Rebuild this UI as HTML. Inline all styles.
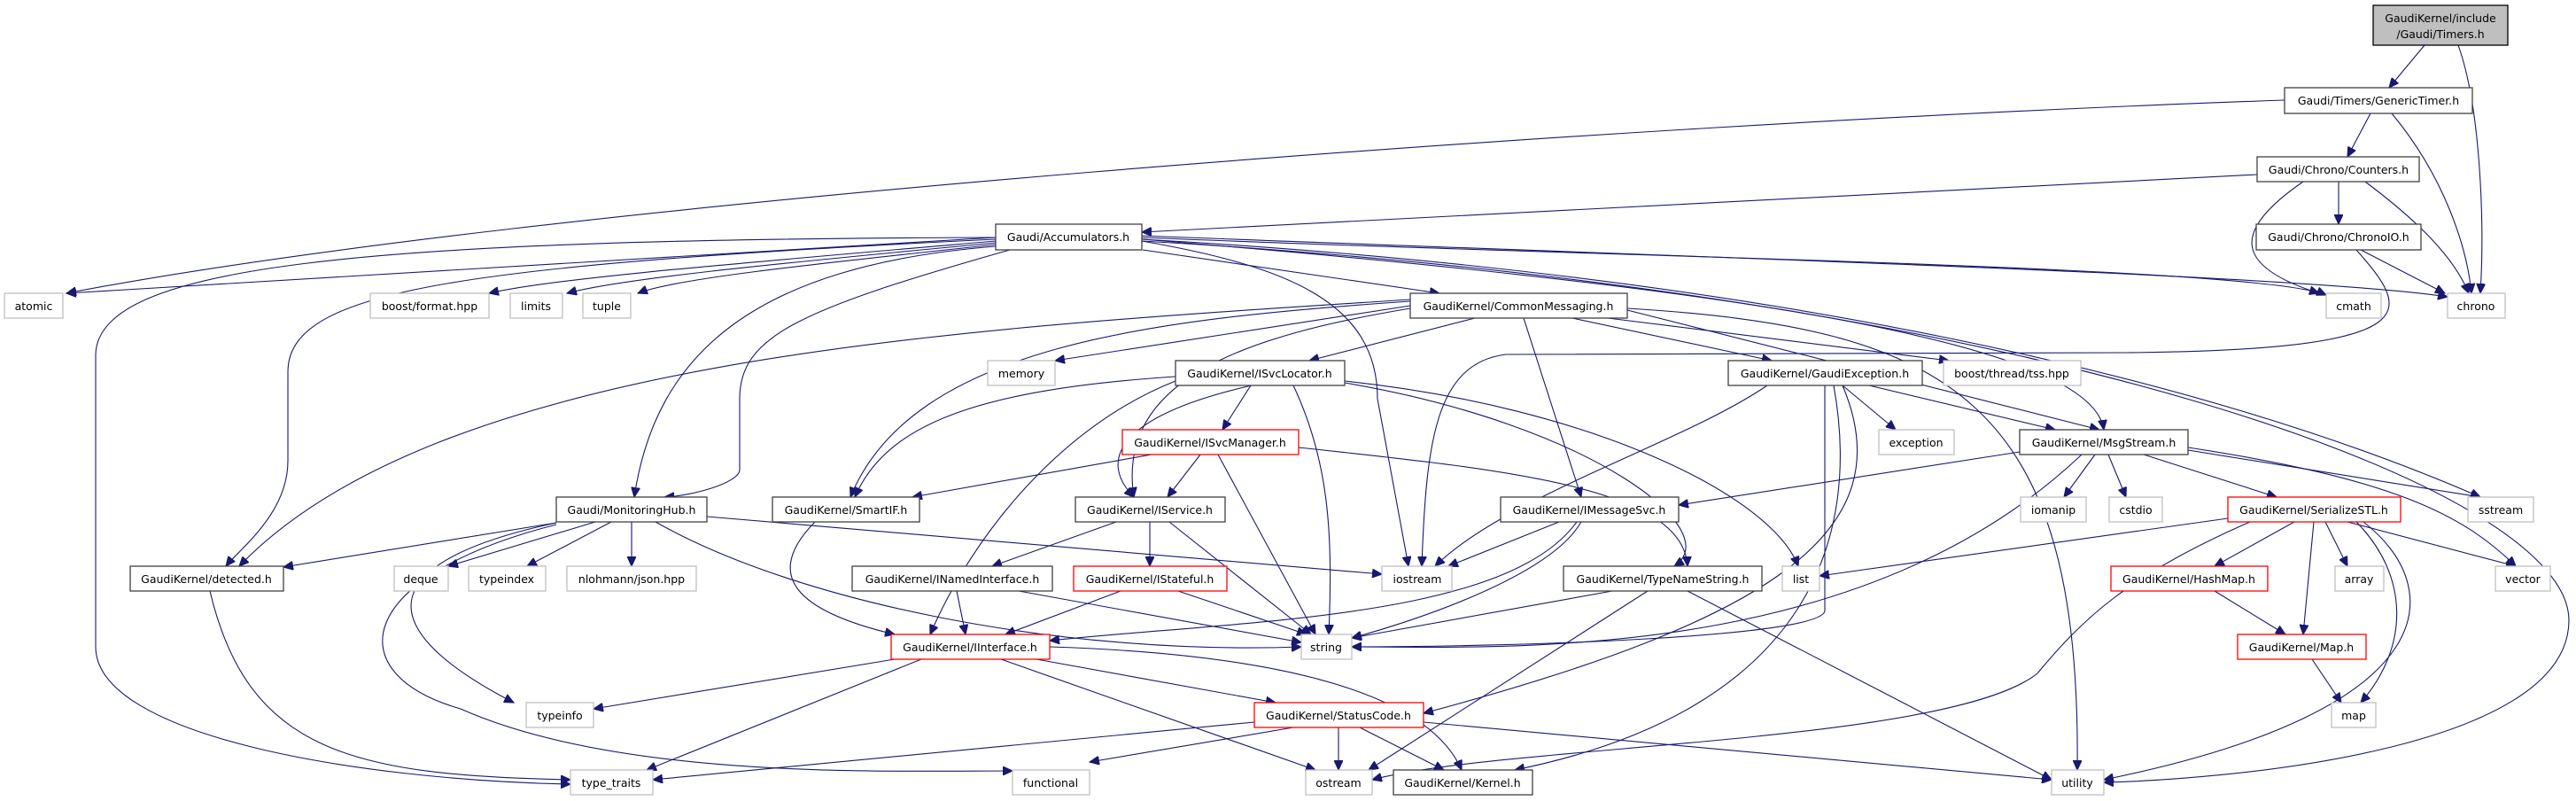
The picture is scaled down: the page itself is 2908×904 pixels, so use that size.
<!DOCTYPE html>
<html><head><meta charset="utf-8"><style>
html,body{margin:0;padding:0;background:#fff;}
svg{display:block;}
text{font-family:"DejaVu Sans","Liberation Sans",sans-serif;font-size:12.5px;fill:#000;text-anchor:middle;}
.n{fill:#fff;stroke:#404040;stroke-width:1.3;}
.g{fill:#fff;stroke:#bfbfbf;stroke-width:1.3;}
.r{fill:#fff;stroke:#ff0000;stroke-width:1.3;}
path{fill:none;stroke:#191970;stroke-width:1.1;marker-end:url(#a);}
</style></head><body>
<svg width="2908" height="904" viewBox="0 0 2908 904" xmlns="http://www.w3.org/2000/svg">
<defs><marker id="a" markerUnits="userSpaceOnUse" markerWidth="12" markerHeight="10" refX="11" refY="5" orient="auto"><path d="M0,0 L11,5 L0,10 z" style="fill:#191970;stroke:#191970;marker-end:none"/></marker></defs>
<g>
<path d="M2737,51 L2697,99"/>
<path d="M2775,51 C2800,120 2805,250 2800,331"/>
<path d="M2579,113 C1800,140 600,230 75,331"/>
<path d="M2676,128 L2650,177"/>
<path d="M2700,128 C2760,200 2785,280 2790,331"/>
<path d="M2548,197 L1289,262"/>
<path d="M2640,205 L2640,253"/>
<path d="M2600,205 C2520,260 2520,300 2618,331"/>
<path d="M2670,205 C2730,250 2770,290 2787,331"/>
<path d="M2665,282 L2760,331"/>
<path d="M2660,282 C2720,350 2750,395 2400,398 L1700,400 C1620,410 1610,500 1605,639"/>
<path d="M1124,268 L75,331"/>
<path d="M1124,268 C400,270 110,300 108,400 L108,730 C108,830 400,880 644,885"/>
<path d="M1124,270 C500,300 325,330 325,420 L325,520 C325,580 270,620 255,639"/>
<path d="M1124,272 C800,300 620,315 552,331"/>
<path d="M1124,274 C850,300 700,315 640,331"/>
<path d="M1124,276 C900,300 760,315 720,331"/>
<path d="M1124,278 C850,300 740,400 716,561"/>
<path d="M1140,282 C900,350 835,380 835,450 L835,530 C835,545 780,560 750,561"/>
<path d="M1290,282 L1625,331"/>
<path d="M1289,272 C1450,300 1555,340 1555,450 L1590,639"/>
<path d="M1289,268 C1800,290 2550,300 2626,333"/>
<path d="M1289,266 C1900,290 2600,310 2763,335"/>
<path d="M1289,270 C2000,310 2500,430 2800,561"/>
<path d="M1289,270 C1900,320 2360,380 2375,485"/>
<path d="M1289,272 C2300,330 2900,550 2900,700 C2900,850 2500,880 2375,883"/>
<path d="M1592,345 L1191,407"/>
<path d="M1665,359 L1478,407"/>
<path d="M1592,340 C1300,360 1030,390 960,561"/>
<path d="M1592,338 C1100,370 500,400 270,639"/>
<path d="M1592,348 C1400,380 1260,430 1280,561"/>
<path d="M1720,359 L1785,561"/>
<path d="M1775,359 L2000,407"/>
<path d="M1815,359 L2200,407"/>
<path d="M1837,350 L2370,485"/>
<path d="M1837,348 C2200,370 2350,450 2345,869"/>
<path d="M1412,435 L1380,485"/>
<path d="M1327,425 C1100,440 1000,480 965,561"/>
<path d="M1413,435 C1260,470 1240,520 1280,561"/>
<path d="M1327,430 C1200,480 1100,600 1050,716"/>
<path d="M1460,435 C1500,520 1505,600 1500,716"/>
<path d="M1518,430 C1800,460 2000,560 2030,639"/>
<path d="M1518,432 C1800,480 1950,600 1890,639"/>
<path d="M1300,513 L1030,561"/>
<path d="M1355,513 L1318,561"/>
<path d="M1375,513 L1485,716"/>
<path d="M1466,505 C1700,530 1900,550 1905,639"/>
<path d="M1995,435 C1900,500 1700,560 1620,639"/>
<path d="M2080,435 L2140,485"/>
<path d="M2110,435 L2320,485"/>
<path d="M2060,435 L2060,690 C2050,720 1700,730 1526,730"/>
<path d="M2070,435 C2100,600 2050,800 1710,869"/>
<path d="M2080,435 C2150,600 2000,700 1607,805"/>
<path d="M2280,510 L1895,570"/>
<path d="M2365,513 L2330,561"/>
<path d="M2380,513 L2400,561"/>
<path d="M2420,513 L2570,561"/>
<path d="M2470,508 L2800,561"/>
<path d="M2470,505 C2700,540 2780,580 2840,639"/>
<path d="M2350,513 C2100,750 1700,730 1526,730"/>
<path d="M2515,585 L2054,650"/>
<path d="M2590,589 L2500,639"/>
<path d="M2612,589 L2600,716"/>
<path d="M2625,589 L2650,639"/>
<path d="M2650,589 L2840,639"/>
<path d="M2660,589 C2720,650 2720,730 2665,793"/>
<path d="M2668,589 C2760,660 2770,800 2375,880"/>
<path d="M2540,589 C2400,650 2350,700 2300,760 C2200,840 1700,840 1549,880"/>
<path d="M2500,667 L2580,716"/>
<path d="M2610,744 L2643,793"/>
<path d="M628,590 L320,640"/>
<path d="M672,589 L506,639"/>
<path d="M690,589 L595,639"/>
<path d="M713,589 L713,639"/>
<path d="M628,590 C440,630 400,700 580,793"/>
<path d="M628,592 C400,650 380,760 520,800 C700,880 1000,870 1143,870"/>
<path d="M740,589 C900,680 1200,740 1469,730"/>
<path d="M798,583 L1560,648"/>
<path d="M920,589 C860,650 900,690 1010,716"/>
<path d="M237,667 C280,850 400,875 644,880"/>
<path d="M1260,589 L1120,639"/>
<path d="M1298,589 L1298,639"/>
<path d="M1320,589 L1480,716"/>
<path d="M1265,667 L1135,716"/>
<path d="M1330,667 L1475,716"/>
<path d="M1080,667 L1090,716"/>
<path d="M1150,667 L1469,725"/>
<path d="M1760,589 L1635,639"/>
<path d="M1780,589 C1700,700 1400,700 1185,723"/>
<path d="M1785,589 C1750,650 1600,700 1526,720"/>
<path d="M1820,667 L1526,720"/>
<path d="M1860,667 L1545,869"/>
<path d="M1905,667 L2316,880"/>
<path d="M1010,744 L670,800"/>
<path d="M1040,744 L730,869"/>
<path d="M1130,744 L1485,869"/>
<path d="M1170,744 L1440,793"/>
<path d="M1185,730 C1500,740 1620,800 1650,869"/>
<path d="M1416,815 L737,880"/>
<path d="M1460,821 L1230,860"/>
<path d="M1511,821 L1511,869"/>
<path d="M1535,821 L1630,869"/>
<path d="M1607,815 L2316,880"/>
</g>
<g>
<rect x="2679" y="6" width="152" height="45" style="fill:#bfbfbf;stroke:#000;stroke-width:1.3"/>
<text x="2755" y="25">GaudiKernel/include</text><text x="2755" y="43">/Gaudi/Timers.h</text>
<rect class="n" x="2579" y="99" width="212" height="29"/><text x="2685" y="118">Gaudi/Timers/GenericTimer.h</text>
<rect class="n" x="2548" y="177" width="183" height="28"/><text x="2640" y="196">Gaudi/Chrono/Counters.h</text>
<rect class="n" x="2547" y="253" width="186" height="29"/><text x="2640" y="272">Gaudi/Chrono/ChronoIO.h</text>
<rect class="n" x="1124" y="253" width="165" height="29"/><text x="1206" y="272">Gaudi/Accumulators.h</text>
<rect class="g" x="5" y="331" width="66" height="28"/><text x="38" y="350">atomic</text>
<rect class="g" x="418" y="331" width="134" height="28"/><text x="485" y="350">boost/format.hpp</text>
<rect class="g" x="576" y="331" width="59" height="28"/><text x="605" y="350">limits</text>
<rect class="g" x="658" y="331" width="54" height="28"/><text x="685" y="350">tuple</text>
<rect class="n" x="1592" y="331" width="245" height="28"/><text x="1714" y="350">GaudiKernel/CommonMessaging.h</text>
<rect class="g" x="2626" y="331" width="62" height="28"/><text x="2657" y="350">cmath</text>
<rect class="g" x="2763" y="331" width="65" height="28"/><text x="2795" y="350">chrono</text>
<rect class="g" x="1115" y="407" width="76" height="28"/><text x="1153" y="426">memory</text>
<rect class="n" x="1327" y="407" width="191" height="28"/><text x="1422" y="426">GaudiKernel/ISvcLocator.h</text>
<rect class="n" x="1951" y="407" width="219" height="28"/><text x="2060" y="426">GaudiKernel/GaudiException.h</text>
<rect class="g" x="2194" y="407" width="155" height="28"/><text x="2271" y="426">boost/thread/tss.hpp</text>
<rect class="r" x="1267" y="485" width="199" height="28"/><text x="1366" y="504">GaudiKernel/ISvcManager.h</text>
<rect class="g" x="2121" y="485" width="85" height="28"/><text x="2163" y="504">exception</text>
<rect class="n" x="2280" y="485" width="190" height="28"/><text x="2375" y="504">GaudiKernel/MsgStream.h</text>
<rect class="n" x="628" y="561" width="170" height="28"/><text x="713" y="580">Gaudi/MonitoringHub.h</text>
<rect class="n" x="872" y="561" width="166" height="28"/><text x="955" y="580">GaudiKernel/SmartIF.h</text>
<rect class="n" x="1214" y="561" width="169" height="28"/><text x="1298" y="580">GaudiKernel/IService.h</text>
<rect class="n" x="1694" y="561" width="201" height="28"/><text x="1794" y="580">GaudiKernel/IMessageSvc.h</text>
<rect class="g" x="2281" y="561" width="74" height="28"/><text x="2318" y="580">iomanip</text>
<rect class="g" x="2381" y="561" width="60" height="28"/><text x="2411" y="580">cstdio</text>
<rect class="r" x="2515" y="561" width="195" height="28"/><text x="2612" y="580">GaudiKernel/SerializeSTL.h</text>
<rect class="g" x="2786" y="561" width="74" height="28"/><text x="2823" y="580">sstream</text>
<rect class="n" x="147" y="639" width="173" height="28"/><text x="233" y="658">GaudiKernel/detected.h</text>
<rect class="g" x="445" y="639" width="61" height="28"/><text x="475" y="658">deque</text>
<rect class="g" x="529" y="639" width="87" height="28"/><text x="572" y="658">typeindex</text>
<rect class="g" x="640" y="639" width="146" height="28"/><text x="713" y="658">nlohmann/json.hpp</text>
<rect class="n" x="962" y="639" width="226" height="28"/><text x="1075" y="658">GaudiKernel/INamedInterface.h</text>
<rect class="r" x="1212" y="639" width="173" height="28"/><text x="1298" y="658">GaudiKernel/IStateful.h</text>
<rect class="g" x="1560" y="639" width="79" height="28"/><text x="1600" y="658">iostream</text>
<rect class="n" x="1765" y="639" width="224" height="28"/><text x="1877" y="658">GaudiKernel/TypeNameString.h</text>
<rect class="g" x="2012" y="639" width="42" height="28"/><text x="2033" y="658">list</text>
<rect class="r" x="2383" y="639" width="177" height="28"/><text x="2471" y="658">GaudiKernel/HashMap.h</text>
<rect class="g" x="2636" y="639" width="55" height="28"/><text x="2663" y="658">array</text>
<rect class="g" x="2817" y="639" width="62" height="28"/><text x="2848" y="658">vector</text>
<rect class="r" x="1006" y="716" width="179" height="28"/><text x="1095" y="735">GaudiKernel/IInterface.h</text>
<rect class="g" x="1469" y="716" width="57" height="28"/><text x="1497" y="735">string</text>
<rect class="r" x="2526" y="716" width="145" height="28"/><text x="2598" y="735">GaudiKernel/Map.h</text>
<rect class="g" x="594" y="793" width="76" height="28"/><text x="632" y="812">typeinfo</text>
<rect class="r" x="1416" y="793" width="191" height="28"/><text x="1511" y="812">GaudiKernel/StatusCode.h</text>
<rect class="g" x="2632" y="793" width="50" height="28"/><text x="2657" y="812">map</text>
<rect class="g" x="644" y="869" width="93" height="28"/><text x="690" y="888">type_traits</text>
<rect class="g" x="1143" y="869" width="87" height="28"/><text x="1186" y="888">functional</text>
<rect class="g" x="1474" y="869" width="75" height="28"/><text x="1511" y="888">ostream</text>
<rect class="n" x="1573" y="869" width="157" height="28"/><text x="1651" y="888">GaudiKernel/Kernel.h</text>
<rect class="g" x="2316" y="869" width="59" height="28"/><text x="2345" y="888">utility</text>
</g>
</svg>
</body></html>
